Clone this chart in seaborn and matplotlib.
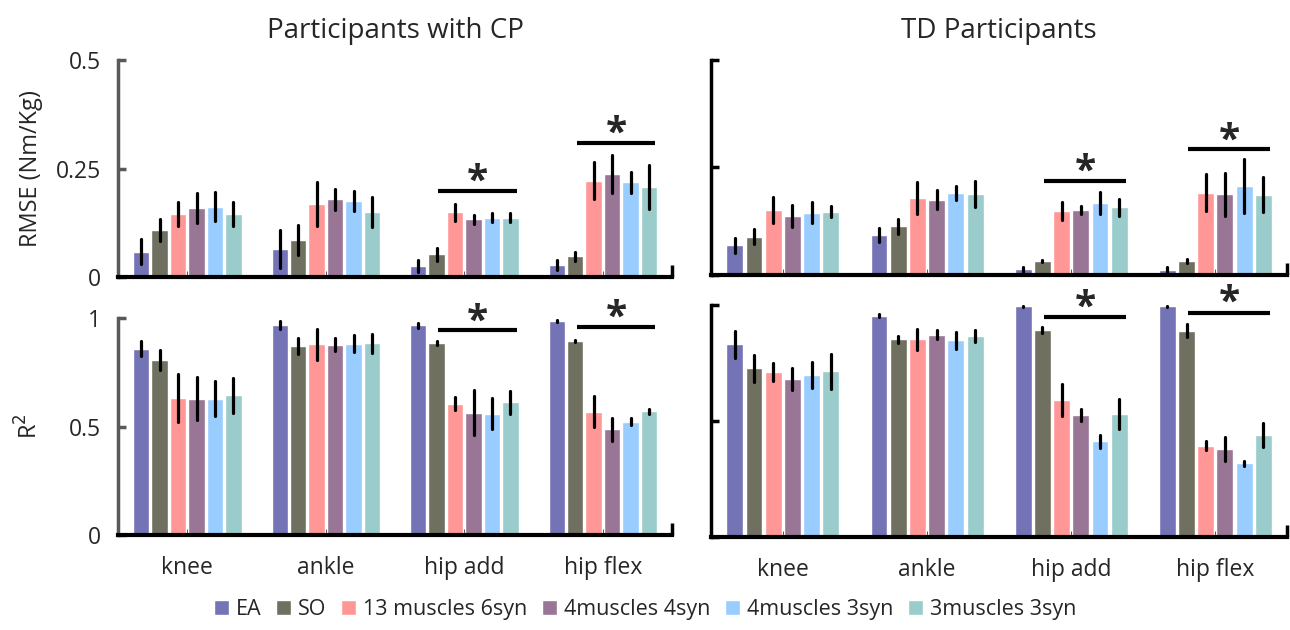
import numpy as np
import pandas as pd
import matplotlib.pyplot as plt
import seaborn as sns

joints = ['knee', 'ankle', 'hip add', 'hip flex']
methods = ['EA', 'SO', '13 muscles 6syn', '4muscles 4syn', '4muscles 3syn', '3muscles 3syn']
colors = ['#7373b5', '#6f705f', '#ff9797', '#997596', '#99ccff', '#99cccb']

# rows = joints, columns = methods
cp_rmse = [[0.059, 0.109, 0.146, 0.159, 0.162, 0.146],
           [0.065, 0.086, 0.168, 0.179, 0.175, 0.150],
           [0.026, 0.053, 0.149, 0.133, 0.137, 0.137],
           [0.028, 0.048, 0.222, 0.238, 0.218, 0.208]]
cp_rmse_err = [[0.028, 0.025, 0.028, 0.035, 0.033, 0.028],
               [0.043, 0.034, 0.051, 0.025, 0.023, 0.035],
               [0.014, 0.015, 0.019, 0.010, 0.010, 0.010],
               [0.012, 0.010, 0.042, 0.044, 0.025, 0.050]]

td_rmse = [[0.069, 0.089, 0.151, 0.137, 0.145, 0.147],
           [0.093, 0.113, 0.179, 0.175, 0.191, 0.188],
           [0.013, 0.033, 0.149, 0.151, 0.167, 0.157],
           [0.012, 0.033, 0.191, 0.188, 0.207, 0.187]]
td_rmse_err = [[0.017, 0.018, 0.031, 0.026, 0.025, 0.013],
               [0.017, 0.018, 0.037, 0.022, 0.016, 0.031],
               [0.006, 0.002, 0.021, 0.010, 0.026, 0.020],
               [0.007, 0.005, 0.043, 0.050, 0.062, 0.040]]

cp_r2 = [[0.859, 0.807, 0.631, 0.628, 0.628, 0.643],
         [0.968, 0.871, 0.879, 0.876, 0.882, 0.884],
         [0.966, 0.885, 0.605, 0.564, 0.559, 0.611],
         [0.986, 0.894, 0.568, 0.487, 0.522, 0.571]]
cp_r2_err = [[0.035, 0.046, 0.110, 0.100, 0.080, 0.080],
             [0.017, 0.037, 0.072, 0.030, 0.040, 0.043],
             [0.012, 0.010, 0.030, 0.105, 0.072, 0.052],
             [0.004, 0.004, 0.072, 0.052, 0.016, 0.012]]

td_r2 = [[0.831, 0.728, 0.711, 0.681, 0.698, 0.714],
         [0.955, 0.853, 0.853, 0.873, 0.848, 0.868],
         [0.995, 0.894, 0.592, 0.526, 0.413, 0.532],
         [0.995, 0.890, 0.393, 0.379, 0.318, 0.439]]
td_r2_err = [[0.058, 0.059, 0.040, 0.048, 0.056, 0.077],
             [0.005, 0.015, 0.045, 0.019, 0.035, 0.026],
             [0.002, 0.014, 0.070, 0.026, 0.029, 0.064],
             [0.002, 0.027, 0.019, 0.051, 0.012, 0.051]]

# significance bars: joint -> height
cp_rmse_sig = {'hip add': 0.198, 'hip flex': 0.308}
td_rmse_sig = {'hip add': 0.218, 'hip flex': 0.292}
cp_r2_sig = {'hip add': 0.943, 'hip flex': 0.957}
td_r2_sig = {'hip add': 0.949, 'hip flex': 0.967}

FS = 16.5


def to_long(means, errs):
    # two points per bar (mean-err, mean+err): the mean is the bar, min/max the error bar
    rows = []
    for j, joint in enumerate(joints):
        for m, method in enumerate(methods):
            for s in (-1, 1):
                rows.append({'joint': joint, 'method': method,
                             'value': means[j][m] + s * errs[j][m]})
    return pd.DataFrame(rows)


def panel(ax, means, errs, sig, ymax, yticks, ylabels, left, star_dy):
    df = to_long(means, errs)
    sns.barplot(data=df, x='joint', y='value', hue='method', order=joints,
                hue_order=methods, palette=colors, estimator='mean',
                errorbar=lambda v: (v.min(), v.max()), err_kws={'color': 'black', 'linewidth': 2.3},
                width=0.8, gap=0.12, saturation=1, ax=ax, legend=left)
    ax.set_ylim(0, ymax)
    ax.set_xlim(-0.5, 3.5)
    ax.set_yticks(yticks)
    ax.set_yticklabels(ylabels)
    ax.set_xticks(range(len(joints)))
    ax.set_xticks([3.5], minor=True)
    ax.set_xlabel('')
    ax.set_ylabel('')
    sns.despine(ax=ax)
    ycol = '#595959' if left else 'black'
    ax.spines['left'].set_color(ycol)
    ax.spines['left'].set_linewidth(2.5)
    ax.spines['bottom'].set_color('black')
    ax.spines['bottom'].set_linewidth(3)
    ax.tick_params(axis='y', left=True, direction='in', length=6, width=2.5, color=ycol,
                   pad=12, labelsize=FS)
    ax.tick_params(axis='x', which='both', bottom=True, direction='in', length=4, width=2.5,
                   color='black', pad=15, labelsize=FS)
    ax.tick_params(axis='x', which='minor', length=9)
    for joint, level in sig.items():
        c = joints.index(joint)
        ax.plot([c - 0.19, c + 0.38], [level, level], color='black', lw=3, solid_capstyle='butt')
        ax.text(c + 0.095, level + star_dy, '*', ha='center', va='center', fontsize=28,
                fontweight='bold', clip_on=False)


sns.set_theme(style='white')
plt.rcParams['font.family'] = ['Open Sans', 'DejaVu Sans']

fig = plt.figure(figsize=(12.9, 6.3), dpi=100)
ax_tl = fig.add_axes([0.0915, 0.560, 0.4295, 0.345])
ax_tr = fig.add_axes([0.551, 0.5635, 0.447, 0.3413])
ax_bl = fig.add_axes([0.0915, 0.1508, 0.4295, 0.3444])
ax_br = fig.add_axes([0.551, 0.1476, 0.447, 0.368])

panel(ax_tl, cp_rmse, cp_rmse_err, cp_rmse_sig, 0.5, [0, 0.25, 0.5], ['0', '0.25', '0.5'], True, 0.02)
handles, labels = ax_tl.get_legend_handles_labels()
ax_tl.get_legend().remove()
panel(ax_tr, td_rmse, td_rmse_err, td_rmse_sig, 0.5, [0, 0.25, 0.5], ['', '', ''], False, 0.02)
panel(ax_bl, cp_r2, cp_r2_err, cp_r2_sig, 1.0, [0, 0.5, 1], ['0', '0.5', '1'], True, 0.04)
panel(ax_br, td_r2, td_r2_err, td_r2_sig, 1.0, [0, 0.5, 1], ['', '', ''], False, 0.04)
ax_bl.get_legend().remove()

ax_tl.set_xticklabels([])
ax_tr.set_xticklabels([])

ax_tl.set_ylabel('RMSE (Nm/Kg)', fontsize=17)
ax_bl.set_ylabel('R$^2$', fontsize=17)
ax_tl.yaxis.set_label_coords(-0.135, 0.5)
ax_bl.yaxis.set_label_coords(-0.135, 0.5)

ax_tl.set_title('Participants with CP', fontsize=20, pad=16)
ax_tr.set_title('TD Participants', fontsize=20, pad=16)

fig.legend(handles, labels, loc='center', bbox_to_anchor=(0.5, 0.032), ncol=6,
           frameon=False, fontsize=15.5, handlelength=0.7, handleheight=0.7,
           handletextpad=0.3, columnspacing=0.7)

fig.savefig('out.png', dpi=100)
